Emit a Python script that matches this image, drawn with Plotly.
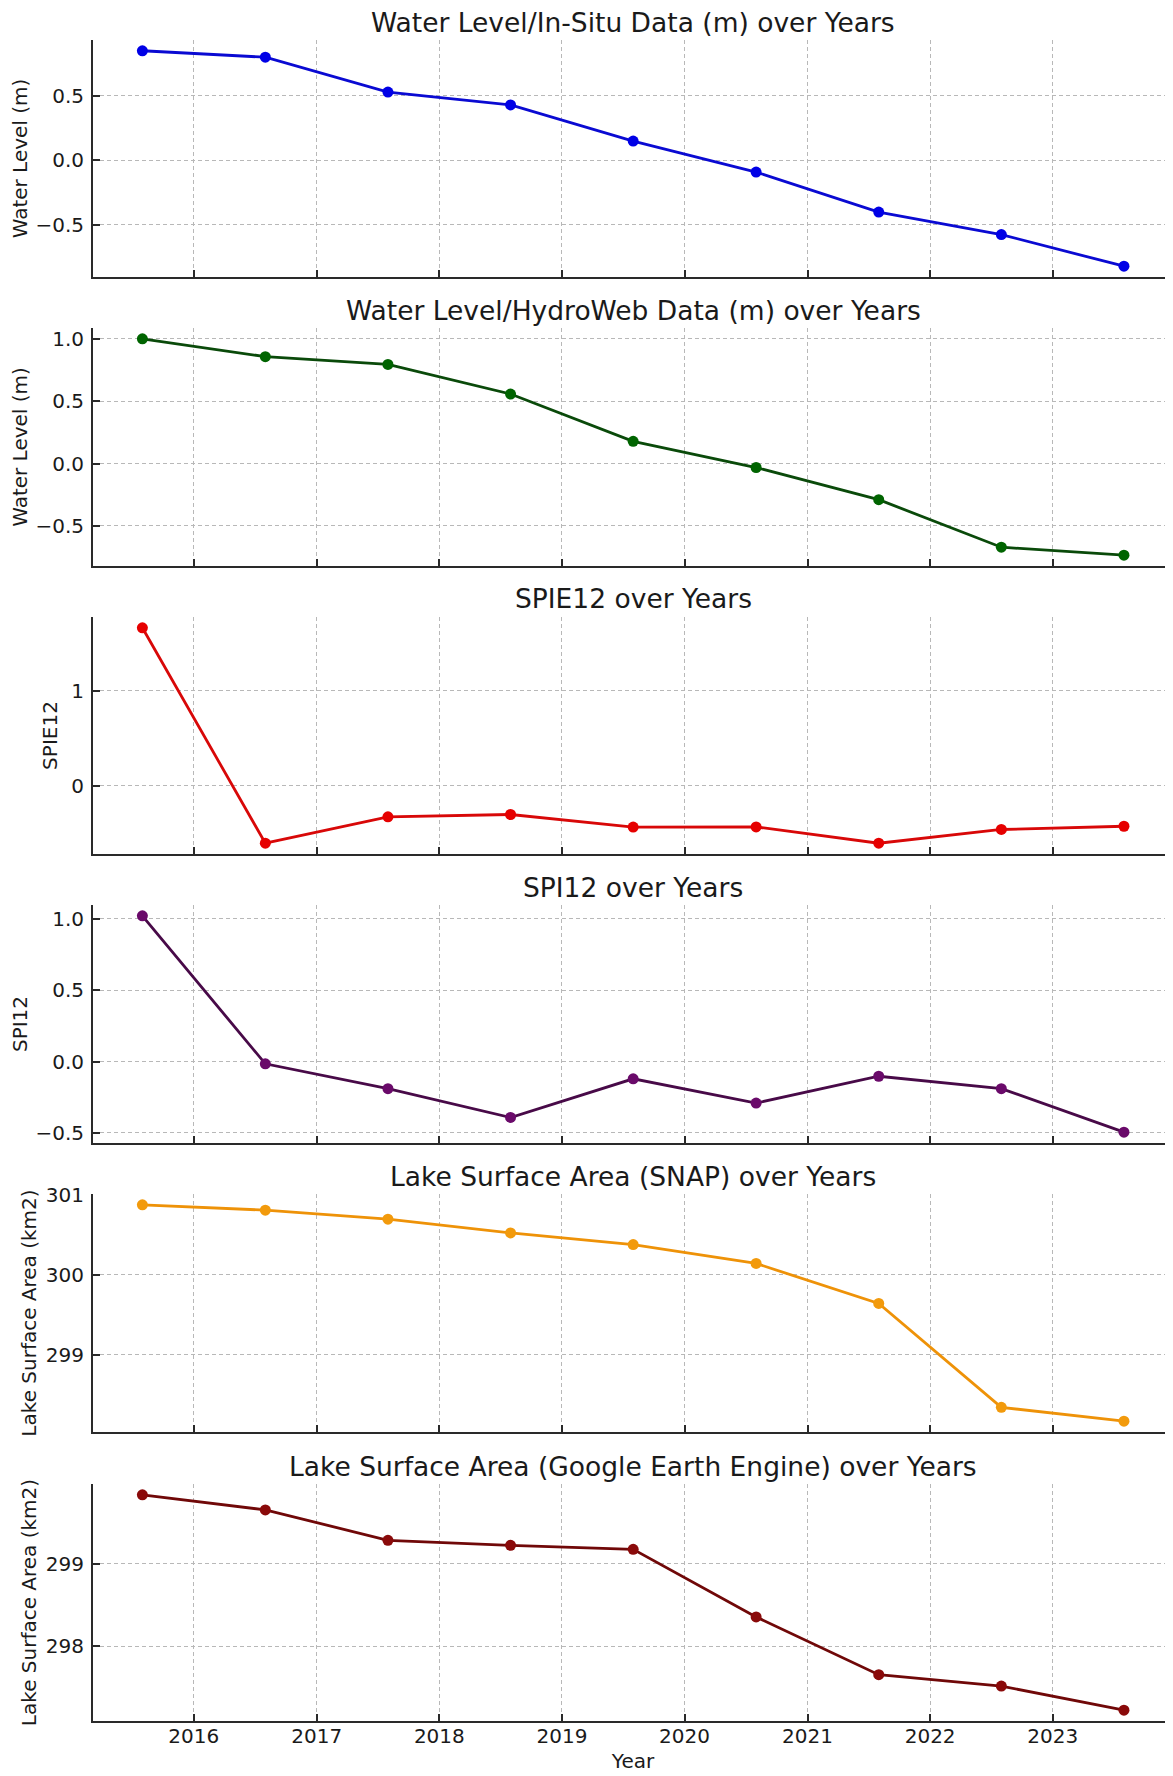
import plotly.graph_objects as go
from plotly.subplots import make_subplots
import pandas as pd

# ---- data ----
dates = ["2015-08-01", "2016-08-01", "2017-08-01", "2018-08-01", "2019-08-01",
         "2020-08-01", "2021-08-01", "2022-08-01", "2023-08-01"]
insitu = [0.85, 0.80, 0.53, 0.43, 0.15, -0.09, -0.40, -0.575, -0.82]
hydroweb = [1.00, 0.857, 0.795, 0.557, 0.178, -0.032, -0.29, -0.671, -0.735]
spie12 = [1.665, -0.607, -0.329, -0.304, -0.437, -0.435, -0.607, -0.462, -0.428]
spi12 = [1.021, -0.016, -0.19, -0.392, -0.121, -0.291, -0.103, -0.19, -0.495]
snap = [300.874, 300.807, 300.694, 300.522, 300.377, 300.140, 299.640, 298.340, 298.167]
gee = [299.835, 299.652, 299.284, 299.223, 299.175, 298.356, 297.656, 297.518, 297.226]

titles = ["Water Level/In-Situ Data (m) over Years",
          "Water Level/HydroWeb Data (m) over Years",
          "SPIE12 over Years",
          "SPI12 over Years",
          "Lake Surface Area (SNAP) over Years",
          "Lake Surface Area (Google Earth Engine) over Years"]
ylabels = ["Water Level (m)", "Water Level (m)", "SPIE12", "SPI12",
           "Lake Surface Area (km2)", "Lake Surface Area (km2)"]
series = [insitu, hydroweb, spie12, spi12, snap, gee]
line_colors = ["#0a0ad2", "#0a4a0a", "#d80808", "#480a48", "#ee9208", "#700808"]
marker_colors = ["#0000e6", "#006400", "#e60000", "#6a0a6a", "#f29a0c", "#8a0a0a"]
ydticks = [0.5, 0.5, 1, 0.5, 1, 1]
yformats = [".1f", ".1f", "d", ".1f", "d", "d"]
ystandoffs = [8, 8, 8, 8, 4, 4]

# ---- layout geometry (page pixels; page body has an 8px margin) ----
PAGE_W, PAGE_H, BODY = 1173, 1776, 8
W, H = PAGE_W - BODY, PAGE_H - BODY
page_tops = [40, 328, 617, 905, 1194, 1484]
page_bottoms = [277, 566, 854, 1143, 1432, 1721]
tops = [t - BODY for t in page_tops]
bottoms = [b - BODY for b in page_bottoms]
mt, mb, ml, mr = tops[0], H - bottoms[-1], 93 - BODY, 0
plot_h = H - mt - mb

def frac(px):
    return (H - mb - px) / plot_h

FONT = "DejaVu Sans"
TXT = "#1a1a1a"
GRID = "#b8b8b8"
SPINE = "#2a2a2a"

fig = make_subplots(rows=6, cols=1, shared_xaxes=True)

dt = pd.to_datetime(dates)
span = dt.max() - dt.min()
xr = [dt.min() - 0.05 * span, dt.max() + 0.05 * span]

for i, (vals, lc, mc) in enumerate(zip(series, line_colors, marker_colors)):
    r = i + 1
    fig.add_trace(go.Scatter(x=dates, y=vals, mode="lines+markers",
                             line=dict(color=lc, width=2.8),
                             marker=dict(color=mc, size=11),
                             showlegend=False), row=r, col=1)
    lo, hi = min(vals), max(vals)
    pad = 0.05 * (hi - lo)
    sfx = "" if r == 1 else str(r)
    fig.layout["yaxis" + sfx].update(
        domain=[frac(bottoms[i]), frac(tops[i])],
        range=[lo - pad, hi + pad],
        dtick=ydticks[i], tickformat=yformats[i],
        showgrid=True, gridcolor=GRID, griddash="4px,3px", gridwidth=1,
        zeroline=False,
        showline=True, linecolor=SPINE, linewidth=2,
        ticks="inside", ticklen=7, tickwidth=1.6, tickcolor=SPINE,
        tickfont=dict(family=FONT, size=20, color=TXT),
        ticklabelstandoff=3,
        title=dict(text=ylabels[i], font=dict(family=FONT, size=20, color=TXT),
                   standoff=ystandoffs[i]),
        automargin=False,
    )
    fig.layout["xaxis" + sfx].update(
        type="date", range=[x.strftime("%Y-%m-%d") for x in xr],
        dtick="M12", tick0="2016-01-01", tickformat="%Y",
        showgrid=True, gridcolor=GRID, griddash="4px,3px", gridwidth=1,
        zeroline=False,
        showline=True, linecolor=SPINE, linewidth=2,
        ticks="inside", ticklen=7, tickwidth=1.6, tickcolor=SPINE,
        tickfont=dict(family=FONT, size=20, color=TXT),
        automargin=False,
    )
    fig.add_annotation(text=titles[i], xref="x domain" if r == 1 else f"x{r} domain",
                       yref="y domain" if r == 1 else f"y{r} domain",
                       x=0.5, y=1, xanchor="center", yanchor="middle", yshift=18,
                       showarrow=False, font=dict(family=FONT, size=26.5, color=TXT))

fig.layout["xaxis6"].update(title=dict(text="Year", font=dict(family=FONT, size=20, color=TXT), standoff=7),
                            ticklabelstandoff=-4)

fig.update_layout(width=W, height=H, margin=dict(l=ml, r=mr, t=mt, b=mb),
                  paper_bgcolor="white", plot_bgcolor="white",
                  font=dict(family=FONT, color=TXT))

fig.write_html("out.html")
